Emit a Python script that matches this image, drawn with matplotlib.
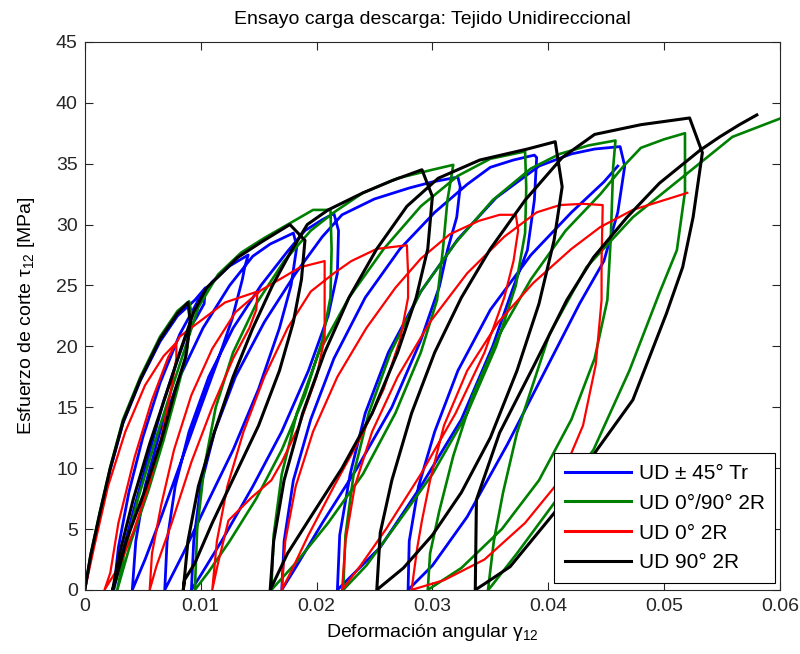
import matplotlib
matplotlib.use("Agg")
import matplotlib.pyplot as plt
from matplotlib import font_manager

# ---------------- data ----------------
blue_x = [0, 0.0005, 0.0013, 0.0022, 0.0033, 0.0048, 0.0065, 0.0080, 0.0095, 0.0104,
          0.0103, 0.0096, 0.0089, 0.0080, 0.0068, 0.0055, 0.0042, 0.0031, 0.0025,
          0.0029, 0.0038, 0.0050, 0.0065, 0.0082, 0.0098, 0.0110, 0.0125, 0.0141,
          0.0138, 0.0136, 0.0127, 0.0115, 0.0100, 0.0083, 0.0066, 0.0052, 0.0041,
          0.0044, 0.0052, 0.0065, 0.0082, 0.0102, 0.0125, 0.0145, 0.0160, 0.0180,
          0.0183, 0.0178, 0.0168, 0.0150, 0.0128, 0.0105, 0.0085, 0.0069,
          0.0071, 0.0078, 0.0090, 0.0107, 0.0128, 0.0152, 0.0175, 0.0190, 0.0205, 0.0215,
          0.0219, 0.0218, 0.0210, 0.0193, 0.0170, 0.0145, 0.0118, 0.0100, 0.0092,
          0.0094, 0.0100, 0.0112, 0.0130, 0.0155, 0.0182, 0.0205, 0.0222, 0.0250, 0.0280, 0.0300, 0.0322,
          0.0324, 0.0321, 0.0313, 0.0306, 0.0290, 0.0265, 0.0235, 0.0205, 0.0183, 0.0170,
          0.0172, 0.0180, 0.0195, 0.0215, 0.0242, 0.0272, 0.0302, 0.0330, 0.0350, 0.0370, 0.0388,
          0.0390, 0.0388, 0.0382, 0.0370, 0.0352, 0.0325, 0.0290, 0.0255, 0.0218,
          0.0220, 0.0229, 0.0242, 0.0262, 0.0290, 0.0322, 0.0355, 0.0392, 0.0420, 0.0440, 0.0462,
          0.0466, 0.0460, 0.0448, 0.0427, 0.0400, 0.0365, 0.0330, 0.0300, 0.0279,
          0.0280, 0.0288, 0.0302, 0.0322, 0.0350, 0.0385, 0.0420, 0.0448, 0.0460]
blue_y = [0, 2.7, 6.2, 9.9, 13.7, 17.2, 20.4, 22.5, 23.8, 24.8,
          23.5, 22.3, 21.3, 18.9, 15.5, 11.0, 6.5, 2.5, 0,
          3.5, 8.0, 12.5, 17.0, 21.0, 23.8, 25.3, 26.6, 27.5,
          26.5, 25.5, 22.2, 18.9, 15.0, 10.5, 6.0, 2.5, 0,
          4.0, 8.5, 13.0, 17.5, 21.5, 25.0, 27.4, 28.4, 29.3,
          28.2, 25.0, 21.5, 16.5, 11.5, 7.0, 3.0, 0,
          4.0, 8.5, 13.0, 17.5, 21.5, 25.0, 27.8, 29.5, 30.4, 30.9,
          29.5, 26.0, 22.5, 18.0, 13.0, 8.5, 4.0, 1.2, 0,
          4.0, 8.5, 13.0, 17.5, 22.0, 26.0, 29.0, 30.8, 32.1, 33.0, 33.5, 33.9,
          33.1, 30.6, 27.9, 24.9, 20.5, 15.0, 10.0, 5.5, 2.0, 0,
          4.0, 9.0, 14.0, 19.0, 24.0, 28.0, 31.0, 33.3, 34.7, 35.3, 35.7,
          35.5, 32.0, 27.9, 24.9, 20.0, 14.0, 8.5, 3.5, 0,
          4.5, 9.5, 14.5, 19.5, 24.5, 28.8, 32.2, 34.8, 35.8, 36.2, 36.4,
          34.8, 31.0, 27.0, 23.5, 18.5, 12.0, 6.0, 2.0, 0,
          4.0, 8.5, 13.0, 18.0, 23.0, 27.5, 31.0, 33.5, 34.8]

green_x = [0, 0.0005, 0.0013, 0.0022, 0.0033, 0.0048, 0.0065, 0.0080, 0.0090,
           0.0092, 0.0088, 0.0080, 0.0068, 0.0055, 0.0040, 0.0031, 0.0028,
           0.0034, 0.0046, 0.0060, 0.0074, 0.0087, 0.0098, 0.0115, 0.0135, 0.0155, 0.0177, 0.0197, 0.0212,
           0.0213, 0.0212, 0.0205, 0.0190, 0.0170, 0.0148, 0.0125, 0.0107, 0.0095,
           0.0097, 0.0103, 0.0113, 0.0128, 0.0148, 0.0172, 0.0195, 0.0215, 0.0240, 0.0270, 0.0300, 0.0318,
           0.0313, 0.0309, 0.0304, 0.0290, 0.0268, 0.0240, 0.0210, 0.0182, 0.0161,
           0.0163, 0.0170, 0.0183, 0.0202, 0.0228, 0.0258, 0.0290, 0.0322, 0.0350, 0.0380,
           0.0381, 0.0380, 0.0372, 0.0355, 0.0330, 0.0300, 0.0270, 0.0243, 0.0223,
           0.0225, 0.0232, 0.0245, 0.0264, 0.0290, 0.0320, 0.0352, 0.0385, 0.0410, 0.0435, 0.0458,
           0.0456, 0.0454, 0.0451, 0.0440, 0.0420, 0.0392, 0.0360, 0.0325, 0.0296,
           0.0298, 0.0306, 0.0318, 0.0335, 0.0358, 0.0385, 0.0415, 0.0445, 0.0465, 0.0480, 0.0500, 0.0518,
           0.0518, 0.0511, 0.0496, 0.0470, 0.0439, 0.0401, 0.0373, 0.0350, 0.0348,
           0.0353, 0.0361, 0.0373, 0.0401, 0.0433, 0.0473, 0.0516, 0.0559, 0.0600]
green_y = [0, 2.9, 6.4, 10.1, 14.0, 17.5, 20.8, 22.9, 23.7,
           22.8, 19.5, 16.5, 12.3, 8.2, 4.0, 1.0, 0,
           3.0, 7.5, 12.0, 16.2, 20.0, 23.2, 25.9, 27.7, 28.9, 30.1, 31.2, 31.2,
           28.0, 24.0, 20.5, 16.0, 11.5, 7.5, 4.0, 1.5, 0,
           5.0, 10.0, 15.0, 19.5, 23.5, 27.0, 29.5, 31.0, 32.6, 33.8, 34.5, 34.9,
           32.0, 27.9, 23.8, 19.5, 14.5, 9.5, 5.5, 2.2, 0,
           4.5, 9.5, 14.5, 19.5, 24.0, 28.0, 31.5, 34.0, 35.4, 36.0,
           33.0, 29.3, 25.0, 20.0, 14.5, 9.5, 5.5, 2.0, 0,
           4.5, 9.5, 14.5, 19.5, 24.5, 28.5, 32.0, 34.6, 35.8, 36.5, 36.9,
           34.7, 29.0, 23.8, 19.0, 14.0, 9.0, 5.0, 1.8, 0,
           3.0, 6.5, 11.0, 16.0, 21.0, 25.5, 29.5, 32.5, 34.8, 36.3, 37.0, 37.5,
           32.7, 27.9, 24.4, 18.0, 11.5, 6.6, 3.0, 0.2, 0,
           4.0, 8.0, 12.9, 21.0, 26.5, 30.6, 33.9, 37.2, 38.7]

red_x = [0, 0.0008, 0.0020, 0.0035, 0.0052, 0.0068, 0.0079,
         0.0079, 0.0074, 0.0066, 0.0055, 0.0042, 0.0030, 0.0017,
         0.0022, 0.0029, 0.0043, 0.0058, 0.0072, 0.0082, 0.0093, 0.0121, 0.0149,
         0.0148, 0.0142, 0.0128, 0.0110, 0.0092, 0.0075, 0.0062, 0.0056,
         0.0058, 0.0066, 0.0077, 0.0092, 0.0110, 0.0130, 0.0152, 0.0170, 0.0186, 0.0207,
         0.0207, 0.0207, 0.0200, 0.0185, 0.0170, 0.0161, 0.0144, 0.0124, 0.0115, 0.0110,
         0.0114, 0.0123, 0.0137, 0.0155, 0.0175, 0.0195, 0.0215, 0.0230, 0.0252, 0.0278,
         0.0279, 0.0279, 0.0272, 0.0258, 0.0238, 0.0215, 0.0193, 0.0178, 0.0170,
         0.0173, 0.0182, 0.0197, 0.0218, 0.0243, 0.0268, 0.0290, 0.0315, 0.0340, 0.0358, 0.0372,
         0.0374, 0.0370, 0.0362, 0.0345, 0.0320, 0.0290, 0.0260, 0.0238, 0.0222,
         0.0225, 0.0233, 0.0248, 0.0270, 0.0298, 0.0330, 0.0362, 0.0390, 0.0410, 0.0430, 0.0447,
         0.0446, 0.0446, 0.0441, 0.0430, 0.0410, 0.0380, 0.0345, 0.0310, 0.0282,
         0.0287, 0.0291, 0.0298, 0.0310, 0.0330, 0.0357, 0.0387, 0.0420, 0.0445, 0.0473, 0.0520]
red_y = [0, 3.5, 8.5, 13.0, 16.8, 19.2, 20.3,
         19.0, 16.2, 12.5, 8.5, 4.8, 2.0, 0,
         1.4, 5.5, 10.9, 15.6, 19.1, 20.8, 21.6, 23.6, 24.5,
         23.0, 21.5, 19.0, 15.0, 10.5, 5.5, 2.0, 0,
         3.0, 7.0, 11.5, 16.0, 19.8, 22.8, 24.6, 25.6, 26.5, 27.0,
         24.0, 20.7, 17.5, 13.5, 10.5, 9.0, 7.6, 5.7, 2.2, 0,
         4.0, 8.5, 13.0, 17.5, 21.5, 24.5, 26.0, 27.0, 28.0, 28.3,
         26.0, 24.0, 20.5, 16.5, 12.5, 8.5, 4.5, 1.5, 0,
         4.0, 8.5, 13.0, 17.5, 21.5, 24.8, 27.2, 29.2, 30.3, 30.8, 30.8,
         29.5, 27.0, 24.0, 19.5, 14.5, 9.5, 5.0, 2.0, 0,
         4.0, 8.5, 13.0, 17.5, 22.0, 26.0, 29.0, 31.0, 31.6, 31.7, 31.6,
         27.0, 23.8, 18.5, 13.5, 9.0, 5.5, 2.5, 0.8, 0,
         3.5, 5.7, 9.0, 13.5, 18.0, 22.0, 25.2, 28.0, 29.8, 31.2, 32.6]

black_x = [0, 0.0005, 0.0013, 0.0022, 0.0033, 0.0048, 0.0065, 0.0080, 0.0089,
           0.0091, 0.0087, 0.0078, 0.0066, 0.0052, 0.0036, 0.0027, 0.0024,
           0.0030, 0.0042, 0.0056, 0.0070, 0.0083, 0.0094, 0.0105, 0.0115, 0.0132, 0.0153, 0.0177,
           0.0190, 0.0187, 0.0180, 0.0168, 0.0150, 0.0130, 0.0110, 0.0095, 0.0086, 0.0085,
           0.0089, 0.0098, 0.0112, 0.0128, 0.0145, 0.0162, 0.0178, 0.0192, 0.0210, 0.0240, 0.0265, 0.0291,
           0.0300, 0.0296, 0.0286, 0.0270, 0.0248, 0.0222, 0.0195, 0.0175, 0.0160,
           0.0163, 0.0172, 0.0188, 0.0207, 0.0228, 0.0252, 0.0278, 0.0305, 0.0341, 0.0382, 0.0406,
           0.0412, 0.0405, 0.0392, 0.0373, 0.0350, 0.0325, 0.0300, 0.0275, 0.0252,
           0.0255, 0.0265, 0.0282, 0.0302, 0.0325, 0.0350, 0.0380, 0.0412, 0.0440, 0.0480, 0.0522,
           0.0533, 0.0525, 0.0516, 0.0502, 0.0473, 0.0442, 0.0405, 0.0367, 0.0345, 0.0337,
           0.0338, 0.0358, 0.0387, 0.0416, 0.0439, 0.0468, 0.0496, 0.0531, 0.0548, 0.0565, 0.0580]
black_y = [0, 2.8, 6.3, 10.0, 13.8, 17.3, 20.6, 22.7, 23.6,
           22.0, 19.1, 16.4, 12.3, 8.2, 4.1, 0.9, 0,
           3.0, 7.5, 12.0, 16.0, 19.8, 22.8, 24.8, 25.7, 27.3, 28.6, 30.0,
           28.7, 25.5, 22.0, 18.0, 13.5, 9.5, 5.5, 2.2, 0.8, 0,
           4.0, 8.5, 13.0, 17.5, 21.5, 25.0, 27.8, 30.0, 31.2, 32.6, 33.6, 34.5,
           32.3, 28.0, 24.0, 19.5, 14.5, 10.0, 6.0, 3.0, 0,
           4.0, 9.0, 14.5, 19.5, 24.0, 28.0, 31.5, 33.8, 35.3, 36.2, 36.8,
           33.1, 28.7, 23.5, 18.0, 12.5, 8.0, 4.5, 1.8, 0,
           4.7, 9.0, 14.5, 19.5, 24.0, 28.0, 32.0, 35.5, 37.4, 38.2, 38.75,
           35.9, 30.6, 26.5, 22.7, 15.6, 11.5, 6.3, 1.9, 0.5, 0,
           7.4, 12.9, 18.3, 23.8, 27.3, 30.6, 33.4, 36.1, 37.2, 38.2, 39.0]

labels = ["UD ± 45° Tr", "UD 0°/90° 2R", "UD 0° 2R", "UD 90° 2R"]
colors = ["#0000ff", "#008000", "#ff0000", "#000000"]
xticks = [0, 0.01, 0.02, 0.03, 0.04, 0.05, 0.06]
xticklabels = ["0", "0.01", "0.02", "0.03", "0.04", "0.05", "0.06"]
yticks = [0, 5, 10, 15, 20, 25, 30, 35, 40, 45]

# ---------------- fonts ----------------
def pick(fams):
    for f in fams:
        try:
            font_manager.findfont(f, fallback_to_default=False)
            return f
        except Exception:
            pass
    return "DejaVu Sans"

fam = pick(["Liberation Sans Narrow", "Liberation Sans", "DejaVu Sans"])
plt.rcParams['font.family'] = [fam, 'DejaVu Sans']
plt.rcParams['mathtext.fontset'] = 'custom'
plt.rcParams['mathtext.rm'] = fam
plt.rcParams['mathtext.it'] = fam

fig = plt.figure(figsize=(8.0, 6.54), dpi=100)
ax = fig.add_axes([0.106, 0.098, 0.869, 0.838])

series = [(blue_x, blue_y), (green_x, green_y), (red_x, red_y), (black_x, black_y)]
widths = [2.0, 1.9, 1.6, 2.2]
for (xs, ys), c, lab, lw in zip(series, colors, labels, widths):
    ax.plot(xs, ys, color=c, lw=lw, label=lab, solid_joinstyle='round')

ax.set_xlim(0, 0.06)
ax.set_ylim(0, 45)
ax.set_xticks(xticks)
ax.set_xticklabels(xticklabels)
ax.set_yticks(yticks)
ax.tick_params(direction='in', length=6, width=0.8, top=True, right=True,
               labelsize=14, colors='#262626')
ax.tick_params(axis='x', pad=6)
ax.tick_params(axis='y', pad=5)
for sp in ax.spines.values():
    sp.set_linewidth(0.8)
    sp.set_color('#262626')

ax.set_title("Ensayo carga descarga: Tejido Unidireccional", fontsize=14, pad=13)
ax.set_xlabel("Deformación angular γ$_{\\mathregular{12}}$", fontsize=14, labelpad=5)
ax.set_ylabel("Esfuerzo de corte τ$_{\\mathregular{12}}$ [MPa]", fontsize=14, labelpad=14)

leg = ax.legend(loc='lower right', bbox_to_anchor=(0.993, 0.013), borderaxespad=0,
                fontsize=15, handlelength=3.2, handletextpad=0.35, labelspacing=0.52,
                borderpad=0.5, fancybox=False, framealpha=1, edgecolor='black')
leg.get_frame().set_linewidth(0.8)
for h in leg.get_lines():
    h.set_linewidth(2.2)

fig.savefig("out.png", dpi=100)
